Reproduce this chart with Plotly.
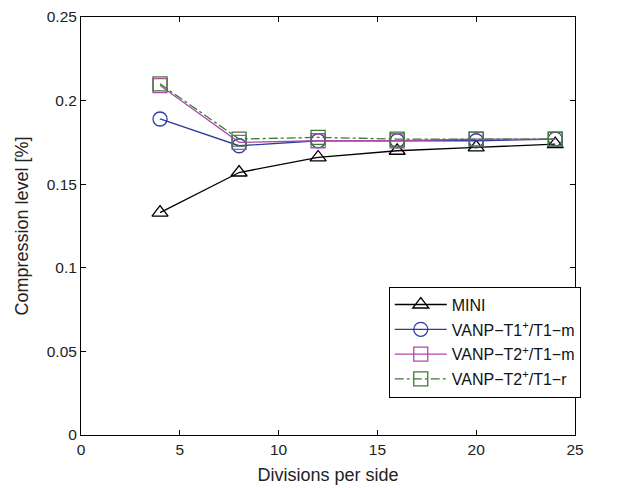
import plotly.graph_objects as go

divisions = [4, 8, 12, 16, 20, 24]
mini = [0.133, 0.157, 0.166, 0.170, 0.172, 0.174]
vanp_t1_m = [0.189, 0.173, 0.176, 0.176, 0.176, 0.177]
vanp_t2_m = [0.209, 0.175, 0.176, 0.176, 0.177, 0.177]
vanp_t2_r = [0.210, 0.177, 0.178, 0.177, 0.177, 0.177]

names = ["MINI", "VANP−T1<sup>+</sup>/T1−m", "VANP−T2<sup>+</sup>/T1−m", "VANP−T2<sup>+</sup>/T1−r"]
colors = ["#000000", "#2E3B9E", "#B048AC", "#3A7D32"]
symbols = ["triangle-up-open", "circle-open", "square-open", "square-open"]
dashes = ["solid", "solid", "solid", "dashdot"]
series = [mini, vanp_t1_m, vanp_t2_m, vanp_t2_r]

FONT = "Liberation Sans, Arial"

fig = go.Figure()
for i, (nm, c, s, d, y) in enumerate(zip(names, colors, symbols, dashes, series)):
    fig.add_trace(go.Scatter(
        x=divisions, y=y, name=nm, mode="lines+markers",
        line=dict(color=c, width=1.3, dash=d),
        marker=dict(symbol=s, size=14, color=c, line=dict(width=1.3, color=c)),
        legendgroup=str(i),
    ))

axis_common = dict(
    showgrid=False, zeroline=False, showline=True, mirror="ticks",
    linecolor="#000000", linewidth=1, ticks="inside", ticklen=5,
    tickcolor="#000000", automargin=False,
    tickfont=dict(family=FONT, size=15.5, color="#222"),
)
fig.update_xaxes(range=[0, 25], tickvals=[0, 5, 10, 15, 20, 25],
                 title=dict(text="Divisions per side", font=dict(size=18, family=FONT, color="#222"), standoff=11), **axis_common)
fig.update_yaxes(range=[0, 0.25], tickvals=[0, 0.05, 0.1, 0.15, 0.2, 0.25],
                 ticktext=["0", "0.05", "0.1", "0.15", "0.2", "0.25"],
                 title=dict(text="Compression level [%]", font=dict(size=18, family=FONT, color="#222"), standoff=13), **axis_common)

fig.update_layout(
    width=616, height=480,
    margin=dict(l=73, r=49, t=9, b=53),
    paper_bgcolor="white", plot_bgcolor="white",
    legend=dict(x=0.623, y=0.355, xanchor="left", yanchor="top",
                bordercolor="#000", borderwidth=1, bgcolor="white",
                font=dict(family=FONT, size=16, color="#111"),
                itemwidth=52,
                traceorder="grouped", tracegroupgap=1),
    font=dict(family=FONT),
)
fig.write_html("out.html")
